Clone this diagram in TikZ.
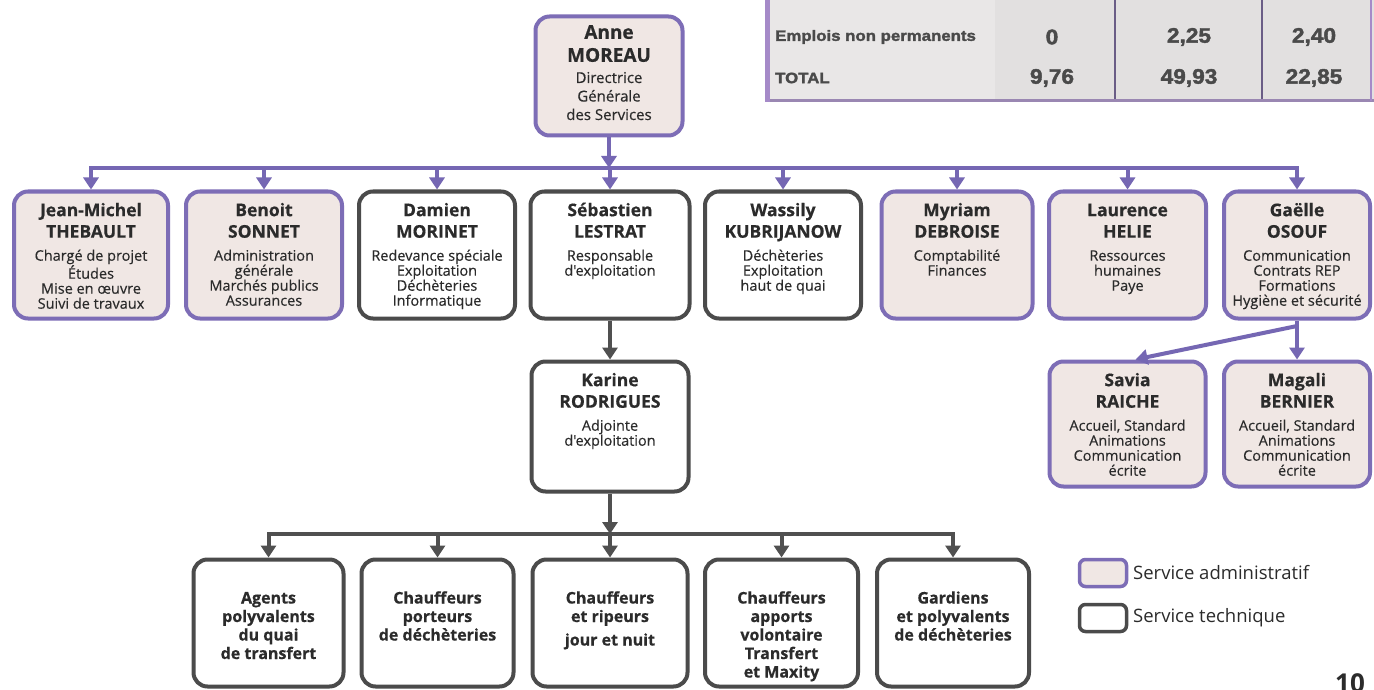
\documentclass[tikz,border=0pt]{standalone}
\usepackage{fontspec}
\setmainfont{Open Sans}
\newfontfamily\namefont[FakeBold=0.5]{Open Sans}
\newfontfamily\descfont[FakeBold=0.35]{Open Sans}
\newfontfamily\tabfont[FakeBold=2,FakeStretch=1.12]{Liberation Sans}
\newfontfamily\tabnum[FakeBold=2,FakeStretch=1.08]{Liberation Sans}
\usetikzlibrary{arrows.meta}
\definecolor{admbord}{HTML}{7D6DB6}
\definecolor{admfill}{HTML}{F0E7E4}
\definecolor{tecbord}{HTML}{4B4B4B}
\definecolor{plink}{HTML}{7567B3}
\definecolor{dlink}{HTML}{505050}
\definecolor{txt}{HTML}{2B2B2B}
\definecolor{tabbg}{HTML}{E2E0E0}
\definecolor{tablab}{HTML}{E9E7E7}
\definecolor{tabtxt}{HTML}{4A4A4A}
\definecolor{tabpurple}{HTML}{A58AC8}
\definecolor{tabsep}{HTML}{6A5D86}
\newcommand{\nm}[1]{{\namefont\fontsize{17.5}{21.5}\selectfont\bfseries\rule{0pt}{14pt}#1\par}}
\newcommand{\ds}[1]{{\descfont\fontsize{14.5}{15}\selectfont #1\par}}
\newcommand{\bnm}[1]{{\namefont\fontsize{19}{23}\selectfont\bfseries\rule{0pt}{15pt}#1\par}}
\newcommand{\bds}[1]{{\descfont\fontsize{15}{18.5}\selectfont #1\par}}
\newcommand{\btm}[1]{{\namefont\fontsize{16}{18.5}\selectfont\bfseries\rule{0pt}{12.5pt}#1\par}}
\newcommand{\bx}[4]{\parbox[c][#2pt][t]{#1pt}{\centering\vspace*{#3pt}#4}}
\tikzset{
  admin/.style={draw=admbord, fill=admfill, line width=4pt, rounded corners=14pt, inner sep=0pt, text=txt},
  tech/.style={draw=tecbord, fill=white, line width=4pt, rounded corners=14pt, inner sep=0pt, text=txt},
  pline/.style={draw=plink, line width=4pt, line cap=rect},
  dline/.style={draw=dlink, line width=4pt, line cap=rect},
  parrow/.style={draw=plink, fill=plink, line width=4pt, -{Triangle[width=15pt,length=12pt]}},
  darrow/.style={draw=dlink, fill=dlink, line width=4pt, -{Triangle[width=15pt,length=12pt]}},
  tablabel/.style={anchor=west, inner sep=0pt, text=tabtxt, font=\tabfont\bfseries\fontsize{15}{17}\selectfont},
  tabval/.style={inner sep=0pt, text=tabtxt, font=\tabnum\bfseries\fontsize{21}{24}\selectfont},
  legtext/.style={anchor=west, inner sep=0pt, text=txt, font=\fontsize{18.5}{22}\selectfont},
}
\begin{document}
\begin{tikzpicture}[x=1pt,y=-1pt]
\useasboundingbox (0,0) rectangle (1374,690);
\clip (0,0) rectangle (1374,690);
\fill[white] (0,0) rectangle (1374,690);

% ---- table (top right) ----
\fill[tabbg] (766,-5) rectangle (1374,101);
\fill[tablab] (766,-5) rectangle (995,101);
\draw[tabsep, line width=2pt] (1115,-5) -- (1115,100);
\draw[tabsep, line width=2pt] (1262,-5) -- (1262,100);
\draw[tabpurple!70!gray, line width=3pt] (765,100.5) -- (1374,100.5);
\draw[tabpurple, line width=1.5pt] (1371,-5) -- (1371,101);
\draw[tabpurple, line width=5pt] (767,-5) -- (767,102);
\node[tablabel] (t1) at (775,37) {Emplois non permanents};
\node[tablabel] (t2) at (775,78) {TOTAL};
\node[tabval] (v11) at (1052,37) {0};
\node[tabval] (v12) at (1189,37) {2,25};
\node[tabval] (v13) at (1314,37) {2,40};
\node[tabval] (v21) at (1052,78) {9,76};
\node[tabval] (v22) at (1189,78) {49,93};
\node[tabval] (v23) at (1314,78) {22,85};

% ---- top ----
\node[admin] (anne) at (609,76) {\bx{147}{119}{7.3}{\bnm{Anne\\MOREAU}\vspace{2.7pt}\bds{Directrice\\Générale\\des Services}}};

% ---- row 1 ----
\node[admin] (jm) at (91,255) {\bx{154}{127}{10.7}{\nm{Jean-Michel\\THEBAULT}\vspace{8pt}\ds{Chargé de projet\\Études\\Mise en œuvre\\Suivi de travaux}}};
\node[admin] (ben) at (264,255) {\bx{156}{127}{10.7}{\nm{Benoit\\SONNET}\vspace{8pt}\ds{Administration\\générale\\Marchés publics\\Assurances}}};
\node[tech] (dam) at (437,255) {\bx{156}{127}{10.7}{\nm{Damien\\MORINET}\vspace{8pt}\ds{Redevance spéciale\\Exploitation\\Déchèteries\\Informatique}}};
\node[tech] (seb) at (610,255) {\bx{159}{127}{10.7}{\nm{Sébastien\\LESTRAT}\vspace{8pt}\ds{Responsable\\d'exploitation}}};
\node[tech] (was) at (783,255) {\bx{156}{127}{10.7}{\nm{Wassily\\KUBRIJANOW}\vspace{8pt}\ds{Déchèteries\\Exploitation\\haut de quai}}};
\node[admin] (myr) at (957,255) {\bx{151}{127}{10.7}{\nm{Myriam\\DEBROISE}\vspace{8pt}\ds{Comptabilité\\Finances}}};
\node[admin] (lau) at (1127.5,255) {\bx{157}{127}{10.7}{\nm{Laurence\\HELIE}\vspace{8pt}\ds{Ressources\\humaines\\Paye}}};
\node[admin] (gae) at (1297,255) {\bx{146}{127}{10.7}{\nm{Gaëlle\\OSOUF}\vspace{8pt}\ds{Communication\\Contrats REP\\Formations\\Hygiène et sécurité}}};

% ---- row 2 ----
\node[tech] (kar) at (610,426.5) {\bx{157}{130}{10.7}{\nm{Karine\\RODRIGUES}\vspace{8pt}\ds{Adjointe\\d'exploitation}}};
\node[admin] (sav) at (1127.5,424) {\bx{156}{125}{10.7}{\nm{Savia\\RAICHE}\vspace{8pt}\ds{Accueil, Standard\\Animations\\Communication\\écrite}}};
\node[admin] (mag) at (1297,424) {\bx{146}{125}{10.7}{\nm{Magali\\BERNIER}\vspace{8pt}\ds{Accueil, Standard\\Animations\\Communication\\écrite}}};

% ---- bottom row ----
\node[tech] (agt) at (268.5,623) {\bx{150}{127}{31.5}{\btm{Agents\\polyvalents\\du quai\\de transfert}}};
\node[tech] (por) at (437.5,623) {\bx{152}{127}{31.5}{\btm{Chauffeurs\\porteurs\\de déchèteries}}};
\node[tech] (rip) at (610,623) {\bx{155}{127}{31.5}{\btm{Chauffeurs\\et ripeurs\\[5pt]jour et nuit}}};
\node[tech] (app) at (781.5,623) {\bx{153}{127}{31.5}{\btm{Chauffeurs\\apports\\volontaire\\Transfert\\et Maxity}}};
\node[tech] (gar) at (953,623) {\bx{152}{127}{31.5}{\btm{Gardiens\\et polyvalents\\de déchèteries}}};

% ---- connectors, top level ----
\coordinate (b1) at (609,168);
\draw[parrow] (anne.south) -- (b1);
\draw[pline] (jm.north |- b1) -- (gae.north |- b1);
\foreach \n in {jm,ben,dam,was,myr,lau,gae}{
  \draw[parrow] (\n.north |- b1) -- (\n.north);
}
\draw[parrow] (seb.north |- b1) -- (seb.north);
\draw[darrow] (seb.south) -- (kar.north);
\draw[parrow] (gae.south) -- (mag.north);
\coordinate (gs) at (1297,326);
\draw[parrow] (gs) -- ([xshift=8pt]sav.north);

% ---- connectors, bottom level ----
\coordinate (b2) at (610,534);
\draw[darrow] (kar.south) -- (b2);
\draw[dline] (agt.north |- b2) -- (gar.north |- b2);
\foreach \n in {agt,por,rip,app,gar}{
  \draw[darrow] (\n.north |- b2) -- (\n.north);
}

% ---- legend ----
\node[admin, rounded corners=6pt, line width=3.5pt, minimum width=47pt, minimum height=27pt] (lega) at (1103,573) {};
\node[tech, rounded corners=6pt, line width=3.5pt, minimum width=47pt, minimum height=27pt] (legt) at (1103,618) {};
\node[legtext] (lta) at (1133,573) {Service administratif};
\node[legtext] (ltt) at (1133,618) {Service technique};

% ---- page number ----
\node[text=txt, font=\bfseries\fontsize{26}{28}\selectfont, inner sep=0pt] (pg) at (1350,683) {10};
\end{tikzpicture}
\end{document}
